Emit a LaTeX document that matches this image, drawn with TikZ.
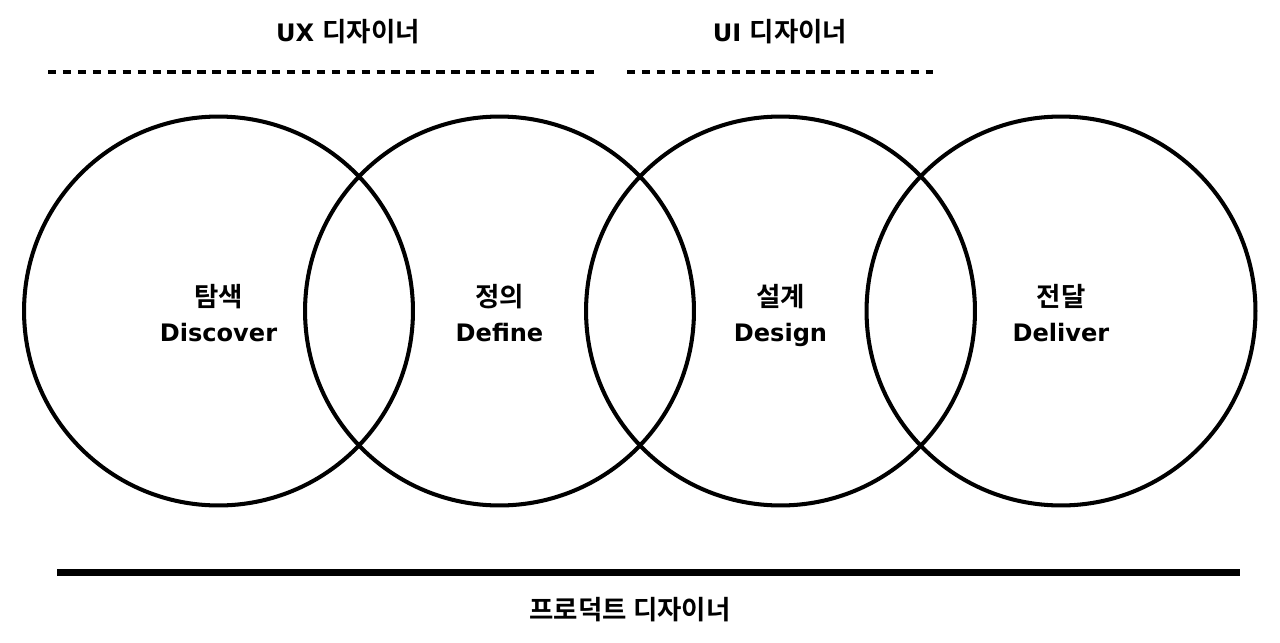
\documentclass[tikz,border=0pt]{standalone}
\usepackage{fontspec}
\setmainfont{DejaVu Sans}
\newfontfamily\kr{Noto Sans CJK KR}[Scale=1.1, BoldFont={Noto Sans CJK KR Bold}]
\usetikzlibrary{positioning}
\newcommand\phasetop{\rule{0pt}{18.8pt}} % same height for every first line
\newcommand\phasedepth{\rule[-3.5pt]{0pt}{0pt}} % same depth for every last line
\tikzset{
	x=0.02cm, y=-0.02cm, % one unit is one pixel of the 1280x642 sheet
	phase/.style = {circle, draw, line width=2.3pt, minimum size=7.78cm, inner sep=0pt,
		align=center, font=\bfseries\fontsize{13.7}{19.9}\selectfont},
	role/.style = {font=\bfseries\fontsize{13.7}{16}\selectfont},
	role line/.style = {line width=2.2pt, dash pattern=on 4.8pt off 3.7pt},
	team line/.style = {line width=4pt}
}

\begin{document}
\begin{tikzpicture}
\useasboundingbox (0,0) rectangle (1280,642);
% four phases
\node[phase] (discover) at (218.5,311) {\phasetop{\kr 탐색}\\Discover\phasedepth};
\node[phase] (define)   at (499.5,311) {\phasetop{\kr 정의}\\Define\phasedepth};
\node[phase] (design)   at (780.5,311) {\phasetop{\kr 설계}\\Design\phasedepth};
\node[phase] (deliver)  at (1061,311)  {\phasetop{\kr 전달}\\Deliver\phasedepth};
% roles on top
\node[role] (ux) at (348,32) {UX {\kr 디자이너}};
\node[role] (ui) at (780,32) {UI {\kr 디자이너}};
\coordinate (ux start) at (48,72);
\coordinate (ux end)   at (597,72);
\coordinate (ui start) at (627,72);
\coordinate (ui end)   at (933,72);
\draw[role line] (ux start) -- (ux end);
\draw[role line] (ui start) -- (ui end);
% whole team below
\coordinate (team start) at (57,572.5);
\coordinate (team end)   at (1240,572.5);
\draw[team line] (team start) -- (team end);
\node[role] (product) at (630,610) {{\kr 프로덕트 디자이너}};
\end{tikzpicture}
\end{document}
